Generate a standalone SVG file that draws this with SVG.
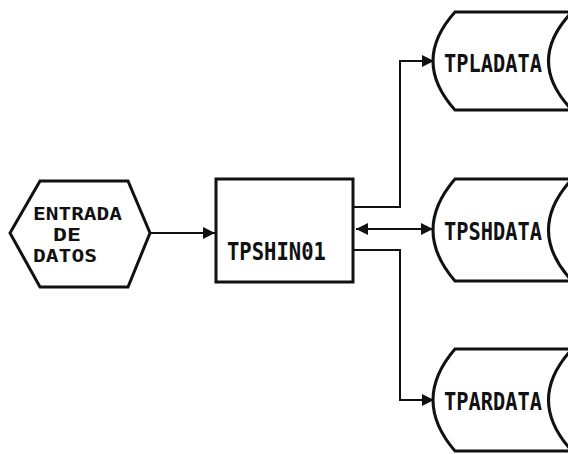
<svg xmlns="http://www.w3.org/2000/svg" width="568" height="454" viewBox="0 0 568 454">
<style>
.shape{fill:#fff;stroke:#111;stroke-width:3;stroke-linejoin:miter}
.conn{fill:none;stroke:#111;stroke-width:2}
.lbl{font-family:"DejaVu Sans Mono","Liberation Mono",monospace;font-weight:bold;font-size:25px;fill:#111}
.sm{font-size:18px}
</style>
<defs>
<marker id="ah" markerUnits="userSpaceOnUse" markerWidth="13" markerHeight="12" refX="12" refY="6" orient="auto-start-reverse">
<path d="M0,0 L12,6 L0,12 Z" fill="#111"/>
</marker>
</defs>
<rect width="568" height="454" fill="#fff"/>
<g id="connectors">
<path class="conn" d="M150,233 H215" marker-end="url(#ah)"/>
<path class="conn" d="M353,207 H400 V61 H434" marker-end="url(#ah)"/>
<path class="conn" d="M356,229 H433" marker-start="url(#ah)" marker-end="url(#ah)"/>
<path class="conn" d="M353,250 H400 V400 H434" marker-end="url(#ah)"/>
</g>
<g id="entrada">
<polygon class="shape" points="40,181 128,181 150,233 128,287 40,287 10,233"/>
<text class="lbl sm" x="33" y="220" textLength="89" lengthAdjust="spacingAndGlyphs">ENTRADA</text>
<text class="lbl sm" x="53" y="241" textLength="28" lengthAdjust="spacingAndGlyphs">DE</text>
<text class="lbl sm" x="33" y="262" textLength="64" lengthAdjust="spacingAndGlyphs">DATOS</text>
</g>
<g id="tpshin01">
<rect class="shape" x="216" y="179" width="137" height="103"/>
<text class="lbl" x="227" y="260" textLength="99" lengthAdjust="spacingAndGlyphs">TPSHIN01</text>
</g>
<g id="tpladata">
<path class="shape" d="M455,12 L572,12 Q525,61 572,110 L455,110 Q411,61 455,12 Z"/>
<text class="lbl" x="444" y="72" textLength="98" lengthAdjust="spacingAndGlyphs">TPLADATA</text>
</g>
<g id="tpshdata">
<path class="shape" d="M455,179 L572,179 Q525,230 572,281 L455,281 Q411,230 455,179 Z"/>
<text class="lbl" x="444" y="240" textLength="98" lengthAdjust="spacingAndGlyphs">TPSHDATA</text>
</g>
<g id="tpardata">
<path class="shape" d="M455,349 L572,349 Q525,400 572,451 L455,451 Q411,400 455,349 Z"/>
<text class="lbl" x="444" y="410" textLength="98" lengthAdjust="spacingAndGlyphs">TPARDATA</text>
</g>
</svg>
